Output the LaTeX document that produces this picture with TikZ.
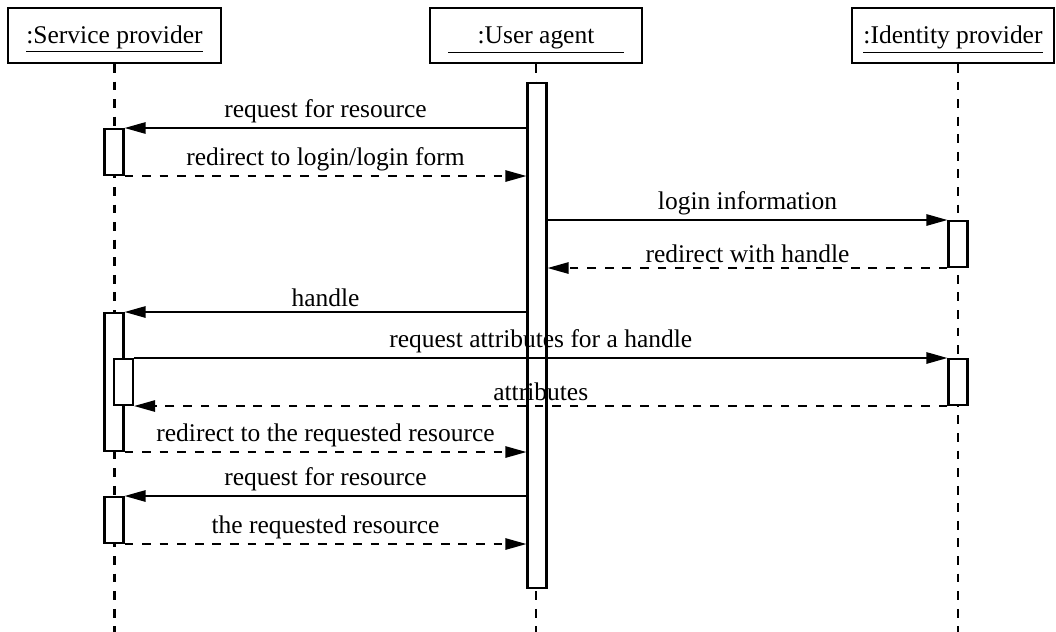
\documentclass[tikz,border=0pt]{standalone}
\usepackage{fontspec}
\setmainfont{Liberation Serif}
\usetikzlibrary{arrows.meta,calc}

\begin{document}
\begin{tikzpicture}[>={Triangle[length=12pt,width=6.4pt]}, line width=1.15pt,
  font=\fontsize{14.5}{17}\selectfont,
  head/.style={draw, minimum height=1.1cm, inner sep=0pt, text height=9.6pt, text depth=0pt},
  act/.style={draw, fill=white, minimum width=0.38cm, inner sep=0pt, anchor=north},
  life/.style={dash pattern=on 5pt off 5pt},
  call/.style={->},
  reply/.style={->, dash pattern=on 5pt off 5pt},
  lbl/.style={above, inner sep=2.5pt}]
  \useasboundingbox (0,0) rectangle (21.12,-12.64);
  % Objects
  \node[head, minimum width=4.26cm](sp) at (2.29,-0.71) {\underline{:Service provider}};
  \node[head, minimum width=4.24cm](ua) at (10.72,-0.71) {\underline{\hspace{0.59cm}:User agent\hspace{0.59cm}}};
  \node[head, minimum width=4.04cm](idp) at (19.06,-0.71) {\underline{:Identity provider}};
  \coordinate (bottom) at (0,-12.64);
  \coordinate (idpx) at ($(idp.south)+(0.1,0)$);
  % Lifelines
  \draw[life] (sp.south) -- (sp.south |- bottom);
  \draw[life] (ua.south) -- (ua.south |- bottom);
  \draw[life] (idpx) -- (idpx |- bottom);
  % Activations
  \node[act, minimum height=10.10cm](uaact) at (10.74,-1.64) {};
  \node[act, minimum height=0.92cm](sp1) at (2.28,-2.56) {};
  \node[act, minimum height=0.92cm](idp1) at (19.16,-4.40) {};
  \node[act, minimum height=2.76cm](sp2) at (2.28,-6.24) {};
  \node[act, minimum height=0.92cm](sub) at (2.47,-7.16) {};
  \node[act, minimum height=0.92cm](idp2) at (19.16,-7.16) {};
  \node[act, minimum height=0.92cm](sp3) at (2.28,-9.92) {};
  % Messages
  \draw[call] (uaact.west |- sp1.north) -- node[lbl]{request for resource} (sp1.north east);
  \draw[reply] (sp1.south east) -- node[lbl]{redirect to login/login form} (sp1.south east -| uaact.west);
  \draw[call] (uaact.east |- idp1.north) -- node[lbl]{login information} (idp1.north west);
  \draw[reply] (idp1.south west) -- node[lbl]{redirect with handle} (idp1.south west -| uaact.east);
  \draw[call] (uaact.west |- sp2.north) -- node[lbl]{handle} (sp2.north east);
  \draw[call] (sub.north east) -- node[lbl]{request attributes for a handle} (idp2.north west);
  \draw[reply] (idp2.south west) -- node[lbl]{attributes} (sub.south east);
  \draw[reply] (sp2.south east) -- node[lbl]{redirect to the requested resource} (sp2.south east -| uaact.west);
  \draw[call] (uaact.west |- sp3.north) -- node[lbl]{request for resource} (sp3.north east);
  \draw[reply] (sp3.south east) -- node[lbl]{the requested resource} (sp3.south east -| uaact.west);
\end{tikzpicture}
\end{document}
